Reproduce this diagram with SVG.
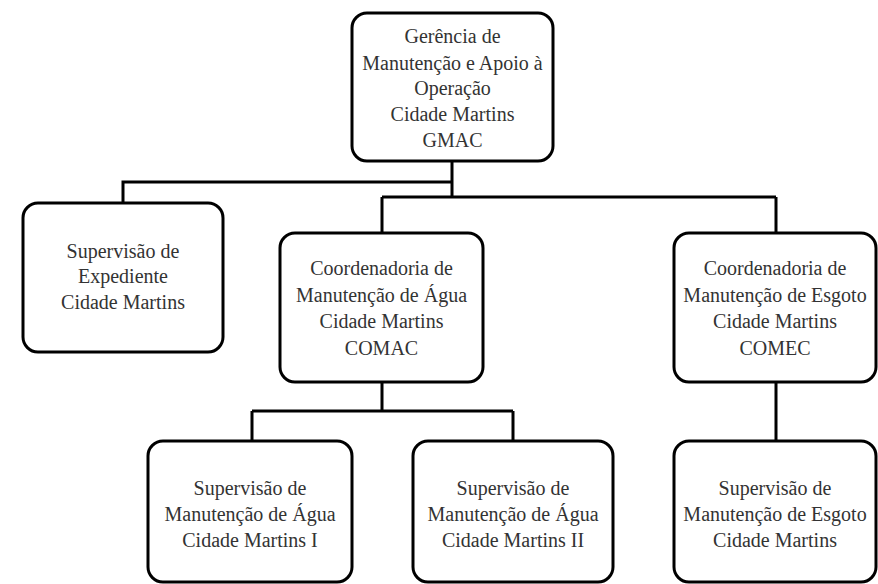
<svg xmlns="http://www.w3.org/2000/svg" width="878" height="584" viewBox="0 0 878 584">
<style>
.box{fill:#fff;stroke:#000;stroke-width:3}
.t{font-size:20px;fill:#333;text-anchor:middle}
.c{fill:none;stroke:#000;stroke-width:3}
</style>
<rect width="878" height="584" fill="#fff"/>
<g id="connectors">
<path class="c" d="M452,161 V197 M452,182 H123 V203 M382,197 H776 M382,197 V233 M776,197 V233 M382,382 V411 M252,411 H513 M252,411 V441 M513,411 V441 M776,382 V441"/>
</g>
<g font-family="Liberation Serif, DejaVu Serif, serif">
<g id="gmac">
<rect class="box" x="352" y="13" width="201" height="148" rx="15"/>
<text class="t" x="452.5" y="43">Gerência de</text>
<text class="t" x="452.5" y="70">Manutenção e Apoio à</text>
<text class="t" x="452.5" y="95">Operação</text>
<text class="t" x="452.5" y="121">Cidade Martins</text>
<text class="t" x="452.5" y="147">GMAC</text>
</g>
<g id="expediente">
<rect class="box" x="23" y="203" width="200" height="149" rx="15"/>
<text class="t" x="123" y="258">Supervisão de</text>
<text class="t" x="123" y="283">Expediente</text>
<text class="t" x="123" y="309">Cidade Martins</text>
</g>
<g id="comac">
<rect class="box" x="280" y="233" width="203" height="149" rx="15"/>
<text class="t" x="381.5" y="275">Coordenadoria de</text>
<text class="t" x="381.5" y="302">Manutenção de Água</text>
<text class="t" x="381.5" y="328">Cidade Martins</text>
<text class="t" x="381.5" y="355">COMAC</text>
</g>
<g id="comec">
<rect class="box" x="674" y="233" width="202" height="149" rx="15"/>
<text class="t" x="775" y="275">Coordenadoria de</text>
<text class="t" x="775" y="302">Manutenção de Esgoto</text>
<text class="t" x="775" y="328">Cidade Martins</text>
<text class="t" x="775" y="355">COMEC</text>
</g>
<g id="agua1">
<rect class="box" x="148" y="441" width="204" height="141" rx="15"/>
<text class="t" x="250" y="495">Supervisão de</text>
<text class="t" x="250" y="521">Manutenção de Água</text>
<text class="t" x="250" y="547">Cidade Martins I</text>
</g>
<g id="agua2">
<rect class="box" x="413" y="441" width="200" height="141" rx="15"/>
<text class="t" x="513" y="495">Supervisão de</text>
<text class="t" x="513" y="521">Manutenção de Água</text>
<text class="t" x="513" y="547">Cidade Martins II</text>
</g>
<g id="esgoto">
<rect class="box" x="674" y="441" width="202" height="141" rx="15"/>
<text class="t" x="775" y="495">Supervisão de</text>
<text class="t" x="775" y="521">Manutenção de Esgoto</text>
<text class="t" x="775" y="547">Cidade Martins</text>
</g>
</g>
</svg>
